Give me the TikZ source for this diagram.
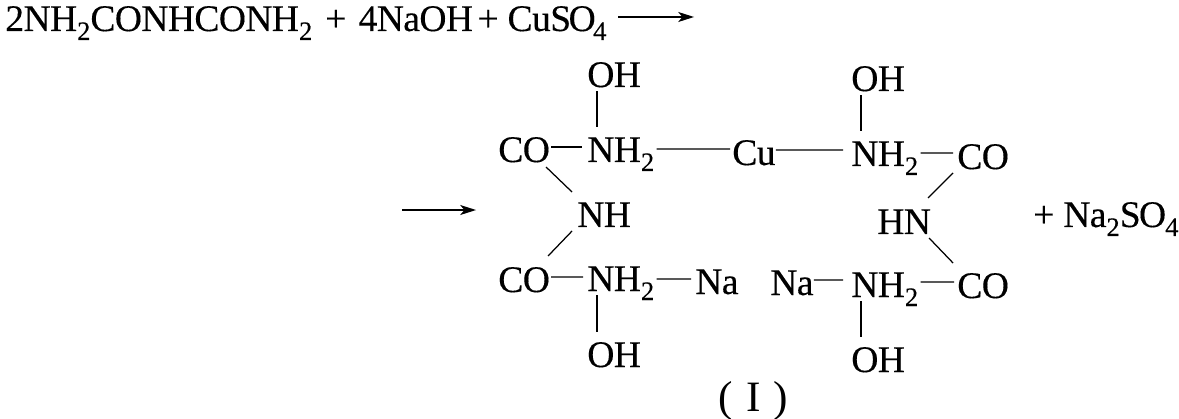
\documentclass[tikz,border=0pt]{standalone}
\usepackage{fontspec}
\setmainfont{Liberation Serif}
\newfontfamily\chemfont[LetterSpace=-1.5,FakeBold=0.25]{Liberation Serif}
\usetikzlibrary{arrows.meta}
\newcommand{\subn}[1]{\raisebox{-0.24em}{\fontsize{16}{18}\selectfont #1}}
\tikzset{
	atom/.style={inner sep=0pt,anchor=base west,font=\chemfont\fontsize{22.5}{24}\selectfont},
	bond/.style={line width=0.75pt},
	rarrow/.style={line width=0.9pt,-{Stealth[length=9.5pt,width=6pt,inset=2.5pt]}}
}
\begin{document}
\begin{tikzpicture}[x=1pt,y=-1pt,scale=0.6]
	\useasboundingbox (0,0) rectangle (1179,419);

	\node[atom] (eq) at (5,31) {2NH\subn{2}CONHCONH\subn{2}\hspace{2.5pt} + \hspace{2pt}4NaOH \kern-2.5pt+ CuS\kern-1.5pt O\kern-1.5pt\subn{4}};
	\coordinate (a1) at (618,17);
	\coordinate (a2) at (694,17);
	\draw[rarrow] (a1) -- (a2);
	\coordinate (b1) at (402,210);
	\coordinate (b2) at (476,210);
	\draw[rarrow] (b1) -- (b2);

	\node[atom] (oh1) at (587,87) {OH};
	\node[atom] (nh1) at (587,162) {NH\subn{2}};
	\node[atom] (co1) at (498,162) {CO};
	\node[atom] (cu) at (732,165) {Cu};
	\node[atom] (oh2) at (851,91) {OH};
	\node[atom] (nh2) at (851,166) {NH\subn{2}};
	\node[atom] (co2) at (957,169) {CO};
	\node[atom] (nh) at (577,227) {NH};
	\node[atom] (hn) at (877,234) {HN};
	\node[atom] (co3) at (498,292) {CO};
	\node[atom] (nh3) at (587,291) {NH\subn{2}};
	\node[atom] (na1) at (695,294) {Na};
	\node[atom] (oh3) at (587,367) {OH};
	\node[atom] (na2) at (770,295) {Na};
	\node[atom] (nh4) at (851,297) {NH\subn{2}};
	\node[atom] (co4) at (957,298) {CO};
	\node[atom] (oh4) at (851,372) {OH};
	\node[atom] (prod) at (1033,227) {+ Na\subn{2}S\kern-1pt O\kern-0.5pt\subn{4}};
	\node[atom,font=\fontsize{26}{28}\selectfont] (lab) at (718,411) {(\hspace{1.5pt} I \hspace{1.5pt})};

	\draw[bond] ([xshift=10pt,yshift=-4pt]oh1.base west) -- ([xshift=10pt,yshift=35pt]nh1.base west);
	\draw[bond] ([xshift=1pt,yshift=15pt]co1.base east) -- ([xshift=-5pt,yshift=15pt]nh1.base west);
	\draw[bond] ([xshift=2pt,yshift=13pt]nh1.base east) -- ([xshift=-2pt,yshift=16pt]cu.base west);
	\draw[bond] ([yshift=15pt]cu.base east) -- ([xshift=-8pt,yshift=16pt]nh2.base west);
	\draw[bond] ([xshift=10pt,yshift=-4pt]oh2.base west) -- ([xshift=10pt,yshift=35pt]nh2.base west);
	\draw[bond] ([xshift=2pt,yshift=13pt]nh2.base east) -- ([xshift=-4pt,yshift=16pt]co2.base west);
	\draw[bond] ([xshift=48pt,yshift=-5pt]co1.base west) -- ([xshift=-5pt,yshift=35pt]nh.base west);
	\draw[bond] ([xshift=-5pt,yshift=-4pt]nh.base west) -- ([xshift=50pt,yshift=36pt]co3.base west);
	\draw[bond] ([xshift=-4pt,yshift=-4pt]co2.base west) -- ([xshift=51pt,yshift=36pt]hn.base west);
	\draw[bond] ([xshift=52pt,yshift=-4pt]hn.base west) -- ([xshift=-4pt,yshift=35pt]co4.base west);
	\draw[bond] ([xshift=1pt,yshift=15pt]co3.base east) -- ([xshift=-4pt,yshift=14pt]nh3.base west);
	\draw[bond] ([xshift=2pt,yshift=12pt]nh3.base east) -- ([xshift=-4pt,yshift=15pt]na1.base west);
	\draw[bond] ([xshift=10pt,yshift=-4pt]nh3.base west) -- ([xshift=10pt,yshift=35pt]oh3.base west);
	\draw[bond] ([yshift=15pt]na2.base east) -- ([xshift=-8pt,yshift=17pt]nh4.base west);
	\draw[bond] ([xshift=2pt,yshift=15pt]nh4.base east) -- ([xshift=-3pt,yshift=16pt]co4.base west);
	\draw[bond] ([xshift=10pt,yshift=-4pt]nh4.base west) -- ([xshift=10pt,yshift=35pt]oh4.base west);
\end{tikzpicture}
\end{document}
